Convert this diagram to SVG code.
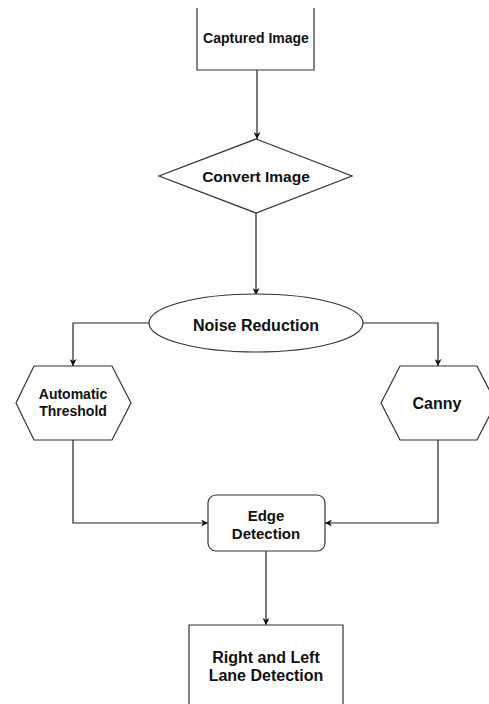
<svg xmlns="http://www.w3.org/2000/svg" width="489" height="704" viewBox="0 0 489 704">
<style>
.shape{fill:#fff;stroke:#333;stroke-width:1.2}
.edge{fill:none;stroke:#222;stroke-width:1.2}
text{font-family:"Liberation Sans",Arial,sans-serif;font-weight:bold;fill:#111;text-anchor:middle}
</style>
<defs>
<marker id="arr" viewBox="0 0 10 10" refX="10" refY="5" markerWidth="7" markerHeight="7" markerUnits="userSpaceOnUse" orient="auto">
<path d="M0,0 L10,5 L0,10 L3,5 Z" fill="#111"/>
</marker>
</defs>
<rect width="489" height="704" fill="#fff"/>
<g id="connectors">
<path class="edge" d="M257,70 V139" marker-end="url(#arr)"/>
<path class="edge" d="M256,213 V295" marker-end="url(#arr)"/>
<path class="edge" d="M149,323 H73 V366" marker-end="url(#arr)"/>
<path class="edge" d="M363,323 H438 V366" marker-end="url(#arr)"/>
<path class="edge" d="M73,440 V523 H208" marker-end="url(#arr)"/>
<path class="edge" d="M438,440 V523 H325" marker-end="url(#arr)"/>
<path class="edge" d="M266,551 V625" marker-end="url(#arr)"/>
</g>
<g id="captured">
<path class="shape" d="M197,8 V70 H314 V8" fill="#fff"/>
<text x="256" y="43" font-size="14">Captured Image</text>
</g>
<g id="convert">
<polygon class="shape" points="256,139 352,176 256,213 159,176"/>
<text x="256" y="182" font-size="15.5">Convert Image</text>
</g>
<g id="noise">
<ellipse class="shape" cx="256" cy="323" rx="107" ry="29"/>
<text x="256" y="331" font-size="16">Noise Reduction</text>
</g>
<g id="threshold">
<polygon class="shape" points="34,366 112,366 131,403 112,440 34,440 16,403"/>
<text x="73" y="399" font-size="14">Automatic</text>
<text x="73" y="416" font-size="14">Threshold</text>
</g>
<g id="canny">
<polygon class="shape" points="400,366 477,366 496,403 477,440 400,440 381,403"/>
<text x="437" y="409" font-size="16">Canny</text>
</g>
<g id="edge">
<rect class="shape" x="208" y="495" width="117" height="56" rx="8"/>
<text x="266" y="521" font-size="15">Edge</text>
<text x="266" y="539" font-size="15">Detection</text>
</g>
<g id="lane">
<path class="shape" d="M189,710 V625 H343 V710"/>
<text x="266" y="663" font-size="16">Right and Left</text>
<text x="266" y="681" font-size="16">Lane Detection</text>
</g>
</svg>
